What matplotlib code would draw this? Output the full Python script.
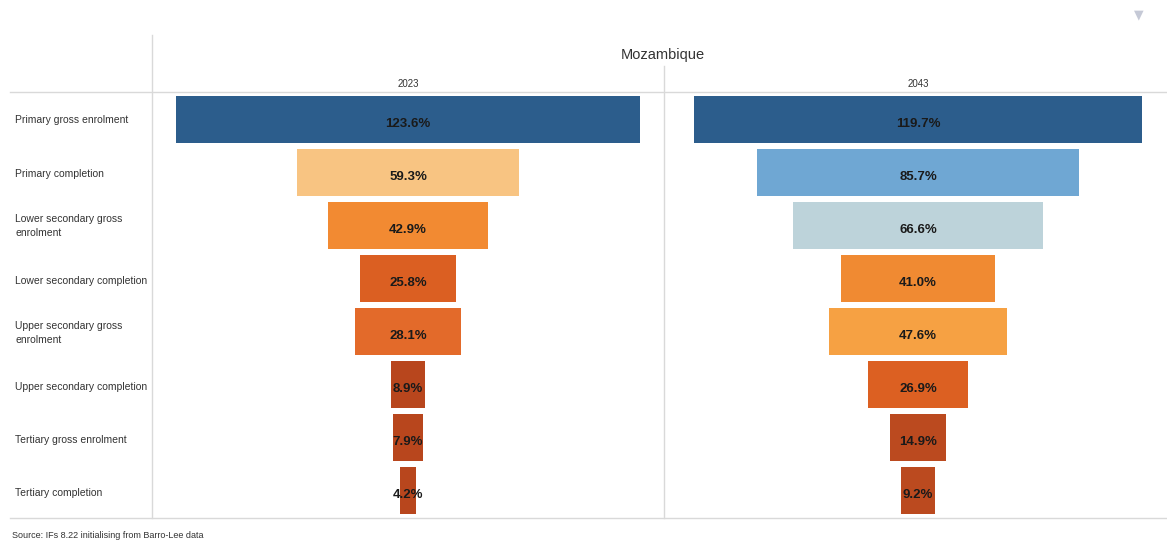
import matplotlib.pyplot as plt
from matplotlib.lines import Line2D

# data
stages = ["Primary gross enrolment", "Primary completion", "Lower secondary gross\nenrolment",
          "Lower secondary completion", "Upper secondary gross\nenrolment",
          "Upper secondary completion", "Tertiary gross enrolment", "Tertiary completion"]
values_2023 = [123.6, 59.3, 42.9, 25.8, 28.1, 8.9, 7.9, 4.2]
values_2043 = [119.7, 85.7, 66.6, 41.0, 47.6, 26.9, 14.9, 9.2]
colors_2023 = ["#2c5d8c", "#f8c482", "#f28a32", "#db5f22", "#e36a2a", "#b8461d", "#b8461d", "#b8461d"]
colors_2043 = ["#2c5d8c", "#6fa7d3", "#bdd3da", "#f08a32", "#f6a143", "#dc6022", "#bb4a1f", "#bb4a1f"]

plt.rcParams['font.family'] = ['Liberation Sans Narrow', 'Liberation Sans', 'DejaVu Sans']

W, H = 1167, 544
fig = plt.figure(figsize=(W / 100, H / 100), dpi=100)
fig.patch.set_facecolor("white")


def fx(px):
    return px / W


def fy(py):
    return 1 - py / H


top, bottom = 92, 518
ax1 = fig.add_axes([fx(152), fy(bottom), fx(664 - 152), fy(top) - fy(bottom)])
ax2 = fig.add_axes([fx(664), fy(bottom), fx(W - 664), fy(top) - fy(bottom)])

px_per = 3.75  # pixels per percentage point
panels = [(ax1, values_2023, colors_2023, 408 - 152, 664 - 152),
          (ax2, values_2043, colors_2043, 918 - 664, W - 664)]

for ax, vals, cols, cpx, wpx in panels:
    y = range(len(vals))
    ax.barh(y, vals, left=[-v / 2 for v in vals], height=0.9, color=cols)
    for yi, v in zip(y, vals):
        ax.text(0, yi + 0.08, f"{v:.1f}%", ha="center", va="center",
                fontsize=9.5, fontweight="bold", color="#1a1a1a")
    ax.set_xlim(-cpx / px_per, (wpx - cpx) / px_per)
    ax.set_ylim(len(vals) - 0.48, -0.52)
    ax.axis("off")

# row labels
ycent = [120, 174, 226, 281, 333, 387, 440, 493]
for s, yc in zip(stages, ycent):
    fig.text(fx(15), fy(yc), s, ha="left", va="center", fontsize=7.5,
             color="#333333", linespacing=1.6)

# grid lines
line_col = "#d9d9d9"
fig.add_artist(Line2D([fx(10), fx(W)], [fy(top), fy(top)], color=line_col, lw=1))
fig.add_artist(Line2D([fx(10), fx(W)], [fy(bottom), fy(bottom)], color=line_col, lw=1))
fig.add_artist(Line2D([fx(152), fx(152)], [fy(35), fy(bottom)], color=line_col, lw=1))
fig.add_artist(Line2D([fx(664), fx(664)], [fy(66), fy(bottom)], color=line_col, lw=1))

fig.text(fx(663), fy(55), "Mozambique", ha="center", va="center", fontsize=10.5, color="#333333")
fig.text(fx(408), fy(84), "2023", ha="center", va="center", fontsize=7, color="#333333")
fig.text(fx(918), fy(84), "2043", ha="center", va="center", fontsize=7, color="#333333")
fig.text(fx(12), fy(536), "Source: IFs 8.22 initialising from Barro-Lee data", ha="left",
         va="center", fontsize=6.5, color="#333333")
fig.text(fx(1139), fy(15), "\u25bc", ha="center", va="center", fontsize=9,
         color="#c5c9d6", family="DejaVu Sans")

fig.savefig("out.png", dpi=100)
